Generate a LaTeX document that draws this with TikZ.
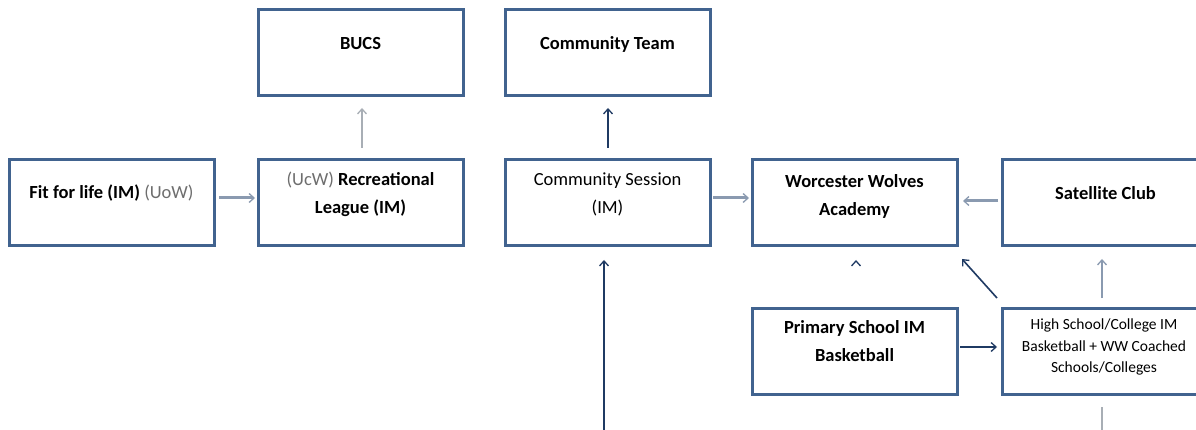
\documentclass[tikz,border=0pt]{standalone}
\usepackage{fontspec}
\setmainfont{Carlito}
\usetikzlibrary{arrows.meta}
\definecolor{boxblue}{HTML}{41638F}
\definecolor{navy}{HTML}{1F3A63}
\definecolor{greyblue}{HTML}{8A9AB0}
\definecolor{lightgrey}{HTML}{A8AEB5}
\definecolor{txtgrey}{HTML}{6E6E6E}
\tikzset{
  boxst/.style={draw=boxblue, line width=3pt, minimum width=205pt, minimum height=86pt, inner sep=0pt},
  bigtxt/.style={font=\fontsize{18.5pt}{28pt}\selectfont, align=center, inner sep=0pt},
  boldtxt/.style={font=\fontsize{18.5pt}{28pt}\selectfont\bfseries, align=center, inner sep=0pt},
  smalltxt/.style={font=\fontsize{15.5pt}{21.5pt}\selectfont, align=center, inner sep=0pt},
  tip/.style={-{Straight Barb[length=5pt,width=9pt,line width=1.3pt]}},
  darkarrow/.style={tip, draw=navy, line width=1.6pt},
  greyarrow/.style={tip, draw=greyblue, line width=3pt},
  thinarrow/.style={tip, draw=lightgrey, line width=1.5pt},
}
\begin{document}
\begin{tikzpicture}[x=1pt,y=-1pt]
\useasboundingbox (0,0) rectangle (1196,430);
\clip (0,0) rectangle (1196,430);
\fill[white] (0,0) rectangle (1196,430);
% boxes
\node[boxst] (bucs) at (360.5,53) {};
\node[boxst] (cteam) at (607.5,53) {};
\node[boxst] (fit) at (111.5,203) {};
\node[boxst] (rec) at (360.5,203) {};
\node[boxst] (csess) at (607.5,203) {};
\node[boxst] (wolves) at (854.5,203) {};
\node[boxst, minimum width=207pt] (sat) at (1105.5,203) {};
\node[boxst] (prim) at (854.5,351) {};
\node[boxst, minimum width=207pt] (hs) at (1105.5,351) {};
% texts
\node[boldtxt] (tbucs) at (360.5,44) {BUCS};
\node[boldtxt] (tcteam) at (607.5,44) {Community Team};
\node[bigtxt] (tfit) at (111.5,193) {\textbf{Fit for life (IM)} \textcolor{txtgrey}{(UoW)}};
\node[bigtxt] (trec) at (360.5,194.5) {\textcolor{txtgrey}{(UcW)} \textbf{Recreational}\\\textbf{League (IM)}};
\node[bigtxt] (tcsess) at (607.5,194.5) {Community Session\\(IM)};
\node[boldtxt] (twolves) at (854.5,196) {Worcester Wolves\\Academy};
\node[boldtxt] (tsat) at (1105.5,193) {Satellite Club};
\node[boldtxt] (tprim) at (854.5,341.5) {Primary School IM\\Basketball};
\node[smalltxt] (ths) at (1104,347) {High School/College IM\\Basketball + WW Coached\\Schools/Colleges};
% connector end points
\coordinate (a1s) at (219,198); \coordinate (a1e) at (255,198);
\coordinate (a2s) at (362,148); \coordinate (a2e) at (362,108);
\coordinate (a3s) at (608,148); \coordinate (a3e) at (608,108);
\coordinate (a4s) at (713,198); \coordinate (a4e) at (749,198);
\coordinate (a5s) at (998,201); \coordinate (a5e) at (963,201);
\coordinate (a6s) at (604,432); \coordinate (a6e) at (604,260);
\coordinate (a7s) at (856,270); \coordinate (a7e) at (856,260);
\coordinate (a8s) at (997,298); \coordinate (a8e) at (962,259);
\coordinate (a9s) at (1102,298); \coordinate (a9e) at (1102,259);
\coordinate (a10s) at (960,347); \coordinate (a10e) at (997,347);
\coordinate (a11s) at (1102,407); \coordinate (a11e) at (1102,432);
\draw[greyarrow] (a1s) -- (a1e);
\draw[thinarrow] (a2s) -- (a2e);
\draw[darkarrow] (a3s) -- (a3e);
\draw[greyarrow] (a4s) -- (a4e);
\draw[greyarrow] (a5s) -- (a5e);
\draw[darkarrow] (a6s) -- (a6e);
\draw[darkarrow, shorten <=9pt] (a7s) -- (a7e);
\draw[darkarrow] (a8s) -- (a8e);
\draw[greyarrow, line width=2pt] (a9s) -- (a9e);
\draw[darkarrow] (a10s) -- (a10e);
\draw[lightgrey, line width=2pt] (a11s) -- (a11e);
\end{tikzpicture}
\end{document}
